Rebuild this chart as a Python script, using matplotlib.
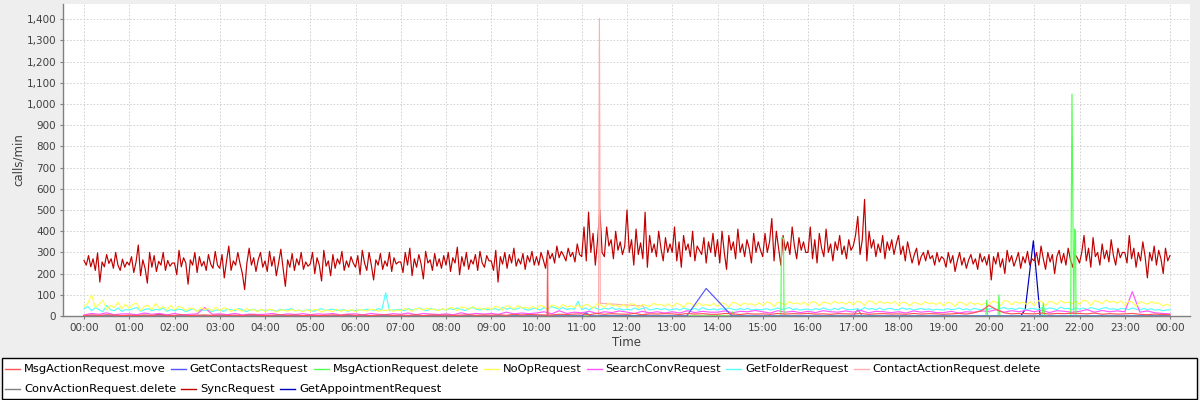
import numpy as np
import matplotlib
matplotlib.use("Agg")
import matplotlib.pyplot as plt
from matplotlib.lines import Line2D
from matplotlib.patches import Rectangle
from matplotlib.ticker import FuncFormatter, MultipleLocator

# ---------------- data (calls/min, time in hours of the day) ----------------
series_names = ["MsgActionRequest.move", "GetContactsRequest", "MsgActionRequest.delete",
                "NoOpRequest", "SearchConvRequest", "GetFolderRequest",
                "ContactActionRequest.delete", "ConvActionRequest.delete",
                "SyncRequest", "GetAppointmentRequest"]
series_colors = ["#FF5555", "#5555FF", "#55FF55", "#FFFF55", "#FF55FF", "#55FFFF",
                 "#FFAFAF", "#808080", "#C00000", "#0000C0"]

# SyncRequest, every 3 minutes 00:00 .. 24:00 (20 values per hour)
sync_vals = [
    262, 240, 285, 232, 270, 215, 298, 160, 255, 232, 290, 248, 270, 225, 300, 240, 215, 268, 230, 255,
    240, 280, 205, 255, 335, 190, 265, 225, 155, 300, 230, 285, 210, 258, 240, 300, 215, 262, 235, 250,
    250, 195, 310, 232, 275, 250, 150, 265, 240, 300, 205, 280, 235, 258, 215, 290, 245, 225, 305, 240,
    225, 290, 180, 260, 330, 215, 260, 240, 300, 245, 200, 125, 250, 320, 240, 275, 210, 265, 300, 230,
    260, 210, 305, 235, 280, 190, 250, 315, 225, 140, 265, 230, 295, 215, 270, 240, 300, 220, 255, 235,
    245, 300, 200, 275, 240, 165, 310, 235, 260, 190, 290, 225, 270, 245, 305, 215, 260, 230, 280, 250,
    230, 285, 195, 310, 250, 215, 300, 240, 170, 265, 240, 295, 220, 260, 235, 300, 210, 275, 245, 255,
    255, 205, 300, 240, 320, 190, 270, 230, 290, 245, 175, 305, 250, 265, 215, 295, 235, 270, 225, 285,
    240, 300, 210, 275, 250, 325, 195, 280, 235, 300, 220, 265, 245, 290, 215, 305, 250, 230, 285, 260,
    260, 215, 310, 160, 280, 245, 300, 225, 290, 250, 320, 235, 270, 245, 295, 220, 285, 255, 305, 240,
    280, 240, 300, 265, 225, 310, 270, 295, 250, 330, 275, 305, 285, 260, 320, 280, 300, 255, 340, 290,
    280, 420, 260, 490, 300, 390, 240, 360, 500, 300, 280, 420, 330, 360, 270, 400, 310, 350, 290, 330,
    500, 300, 360, 240, 410, 290, 345, 270, 490, 230, 380, 300, 340, 280, 400, 320, 260, 370, 300, 340,
    300, 420, 260, 350, 230, 380, 310, 340, 280, 400, 260, 330, 310, 290, 370, 250, 350, 300, 390, 280,
    360, 250, 400, 300, 220, 380, 310, 350, 270, 410, 300, 340, 280, 360, 320, 250, 390, 300, 350, 310,
    280, 390, 300, 350, 460, 260, 400, 320, 240, 380, 310, 350, 290, 420, 330, 270, 370, 310, 350, 300,
    300, 420, 270, 360, 250, 390, 320, 280, 410, 300, 340, 260, 350, 310, 380, 290, 330, 270, 360, 310,
    330, 380, 470, 290, 360, 550, 260, 400, 320, 360, 280, 340, 300, 380, 270, 350, 310, 360, 290, 340,
    380, 290, 330, 260, 350, 300, 250, 290, 320, 240, 280, 300, 260, 310, 270, 285, 240, 300, 255, 280,
    270, 230, 300, 250, 285, 210, 260, 300, 240, 275, 225, 265, 290, 245, 270, 220, 295, 255, 280, 240,
    290, 170, 280, 245, 300, 230, 270, 200, 310, 255, 285, 235, 265, 300, 225, 280, 250, 305, 240, 270,
    260, 300, 240, 330, 270, 220, 300, 255, 290, 200, 280, 310, 250, 295, 240, 320, 265, 230, 290, 275,
    250, 300, 380, 260, 320, 230, 370, 280, 300, 240, 340, 270, 310, 255, 360, 285, 240, 320, 275, 300,
    300, 250, 380, 270, 320, 230, 300, 260, 350, 280, 180, 300, 260, 330, 240, 310, 270, 200, 320, 260,
    285]

# NoOpRequest, every 5 minutes
noop_vals = [
    45, 60, 100, 40, 55, 75, 30, 50, 40, 65, 35, 55,
    35, 55, 60, 25, 45, 50, 30, 60, 35, 45, 28, 50,
    30, 45, 40, 25, 38, 35, 20, 40, 30, 35, 25, 42,
    25, 38, 35, 20, 32, 30, 22, 35, 28, 30, 20, 33,
    20, 32, 30, 18, 28, 28, 22, 30, 25, 28, 20, 30,
    22, 30, 30, 18, 28, 26, 20, 32, 22, 28, 25, 30,
    20, 30, 28, 24, 32, 30, 22, 28, 26, 30, 22, 28,
    25, 35, 32, 22, 35, 35, 28, 38, 30, 32, 26, 34,
    28, 40, 38, 25, 42, 40, 30, 45, 35, 38, 30, 40,
    30, 45, 42, 28, 48, 45, 32, 50, 38, 42, 35, 45,
    35, 50, 45, 30, 52, 48, 38, 55, 42, 48, 40, 52,
    38, 55, 50, 35, 58, 52, 40, 60, 48, 52, 42, 55,
    40, 58, 55, 38, 55, 50, 45, 60, 52, 55, 45, 58,
    42, 60, 55, 40, 62, 58, 45, 62, 50, 55, 48, 60,
    45, 62, 58, 42, 65, 60, 48, 62, 55, 58, 50, 62,
    50, 65, 62, 45, 65, 60, 52, 68, 58, 62, 55, 65,
    50, 68, 65, 48, 66, 62, 55, 70, 60, 65, 55, 68,
    52, 70, 65, 50, 72, 68, 55, 70, 60, 65, 58, 70,
    50, 65, 62, 48, 65, 60, 52, 68, 58, 62, 55, 64,
    48, 65, 60, 45, 66, 62, 50, 65, 55, 60, 52, 62,
    50, 70, 65, 48, 72, 70, 52, 68, 60, 65, 55, 68,
    50, 72, 68, 48, 70, 65, 55, 72, 62, 65, 58, 70,
    55, 75, 70, 50, 72, 68, 58, 75, 65, 70, 60, 72,
    50, 70, 65, 45, 68, 62, 55, 68, 60, 62, 48, 55,
    50]

# GetFolderRequest, every 5 minutes
folder_vals = [
    35, 45, 25, 40, 30, 20, 50, 30, 25, 38, 22, 30,
    28, 35, 40, 22, 30, 35, 25, 32, 28, 38, 22, 30,
    25, 32, 30, 20, 28, 35, 22, 30, 26, 30, 20, 28,
    28, 22, 32, 30, 25, 35, 30, 20, 28, 32, 22, 30,
    25, 30, 28, 22, 32, 28, 30, 35, 24, 28, 22, 30,
    28, 22, 30, 35, 25, 30, 32, 26, 28, 30, 22, 28,
    25, 30, 28, 32, 30, 26, 35, 30, 110, 25, 28, 30,
    30, 25, 35, 28, 32, 38, 30, 25, 35, 30, 28, 32,
    28, 35, 30, 38, 32, 25, 35, 40, 32, 28, 35, 30,
    30, 35, 28, 40, 32, 38, 30, 35, 42, 30, 28, 35,
    35, 28, 40, 30, 45, 38, 32, 40, 30, 35, 32, 70,
    30, 38, 28, 42, 35, 30, 38, 32, 40, 30, 35, 28,
    32, 28, 38, 30, 35, 40, 28, 32, 36, 30, 35, 28,
    30, 35, 28, 38, 32, 30, 36, 28, 40, 32, 30, 34,
    28, 35, 30, 38, 32, 28, 35, 30, 36, 28, 32, 30,
    30, 35, 28, 32, 38, 30, 35, 40, 30, 34, 28, 32,
    32, 28, 35, 30, 38, 32, 28, 36, 30, 40, 32, 30,
    30, 35, 28, 40, 32, 35, 30, 38, 28, 34, 36, 30,
    30, 38, 32, 35, 28, 32, 36, 30, 34, 28, 32, 30,
    28, 35, 30, 32, 38, 30, 34, 28, 36, 32, 30, 34,
    32, 38, 30, 35, 40, 32, 36, 30, 38, 34, 30, 35,
    35, 30, 40, 32, 38, 35, 30, 42, 34, 36, 30, 38,
    32, 38, 30, 40, 35, 30, 36, 40, 32, 34, 30, 35,
    35, 30, 38, 32, 28, 36, 30, 34, 28, 30, 25, 28,
    30]

# SearchConvRequest, every 10 minutes
search_vals = [
    5, 12, 8, 15, 6, 10,    10, 6, 14, 8, 12, 5,    12, 5, 8, 10, 40, 8,
    10, 6, 12, 5, 9, 7,     8, 12, 5, 10, 7, 11,    6, 10, 8, 12, 5, 9,
    10, 5, 12, 8, 6, 11,    8, 14, 6, 12, 9, 7,     10, 6, 15, 8, 12, 9,
    12, 8, 18, 10, 14, 11,  14, 20, 10, 25, 12, 18, 15, 22, 12, 20, 16, 24,
    18, 12, 22, 15, 20, 14, 20, 14, 25, 16, 22, 18, 18, 24, 15, 22, 20, 26,
    20, 14, 25, 18, 22, 16, 22, 16, 25, 20, 18, 24, 18, 26, 15, 22, 20, 16,
    20, 14, 24, 18, 22, 16, 16, 22, 14, 20, 18, 24, 22, 30, 18, 25, 20, 28,
    20, 28, 16, 25, 22, 18, 22, 30, 18, 26, 20, 24, 20, 115, 18, 24, 15, 12,
    10]

# MsgActionRequest.move, every 10 minutes plus a narrow spike
move_vals = [
    2, 5, 3, 6, 4, 2,     4, 2, 5, 3, 6, 3,     3, 6, 2, 4, 5, 3,
    5, 3, 4, 2, 6, 4,     2, 4, 6, 3, 5, 2,     4, 2, 3, 5, 3, 6,
    3, 5, 2, 4, 6, 3,     4, 3, 6, 2, 5, 4,     5, 3, 4, 6, 3, 5,
    4, 6, 3, 8, 5, 7,     6, 5, 5, 8, 7, 9,     10, 6, 12, 8, 11, 9,
    8, 12, 6, 10, 9, 11,  10, 7, 12, 9, 11, 8,  8, 12, 10, 7, 11, 9,
    10, 8, 12, 9, 11, 10, 12, 9, 10, 8, 11, 10, 9, 12, 8, 10, 11, 9,
    10, 8, 12, 9, 11, 10, 8, 10, 12, 9, 15, 25, 50, 30, 15, 10, 12, 11,
    10, 14, 9, 12, 11, 13, 12, 10, 14, 8, 11, 9, 10, 12, 8, 6, 9, 7,
    6]
move_spike_t = [10.235, 10.245, 10.255]
move_spike_v = [4, 280, 4]

# sparse series (time in hours, value)
contacts_t = [0.0, 11.0, 11.1, 11.2, 13.32, 13.75, 14.32, 24.0]
contacts_v = [0, 0, 15, 0, 0, 130, 0, 0]

delete_t = [0.0, 14.30, 14.33, 14.37, 15.400, 15.414, 15.459, 15.470,
            19.93, 19.95, 19.97, 20.20, 20.22, 20.24, 21.17, 21.20, 21.23,
            21.805, 21.834, 21.872, 21.894, 21.912, 21.923, 24.0]
delete_v = [0, 0, 20, 0, 0, 368, 368, 0,
            0, 75, 0, 0, 100, 0, 0, 60, 0,
            0, 1047, 0, 410, 396, 0, 0]

contact_del_t = [0.0, 11.37, 11.39, 11.41, 12.36, 12.45, 24.0]
contact_del_v = [0, 0, 1404, 60, 47, 0, 0]

conv_del_t = [0.0, 17.0, 17.1, 17.2, 24.0]
conv_del_v = [0, 0, 30, 0, 0]

appt_t = [0.0, 1.5, 1.6, 1.8, 1.9, 20.70, 20.80, 20.98, 21.13, 24.0]
appt_v = [0, 0, 5, 5, 0, 0, 30, 355, 0, 0]

hour_ticks = list(range(0, 25))
hour_labels = ["%02d:00" % (h % 24) for h in hour_ticks]


def merged(base_t, base_v, spike_t, spike_v):
    t = np.concatenate([np.asarray(base_t, float), np.asarray(spike_t, float)])
    v = np.concatenate([np.asarray(base_v, float), np.asarray(spike_v, float)])
    order = np.argsort(t, kind="stable")
    return t[order], v[order]


def day_grid(vals):
    n = len(vals) - 1
    return np.arange(len(vals)) * 24.0 / n


sync_t = day_grid(sync_vals)
noop_t = day_grid(noop_vals)
folder_t = day_grid(folder_vals)
search_t = day_grid(search_vals)
move_t = day_grid(move_vals)
move_tt, move_vv = merged(move_t, move_vals, move_spike_t, move_spike_v)

data = [
    (move_tt, move_vv),
    (contacts_t, contacts_v),
    (delete_t, delete_v),
    (noop_t, noop_vals),
    (search_t, search_vals),
    (folder_t, folder_vals),
    (contact_del_t, contact_del_v),
    (conv_del_t, conv_del_v),
    (sync_t, sync_vals),
    (appt_t, appt_v),
]

# ---------------- figure ----------------
W, H = 1200, 400
fig = plt.figure(figsize=(12, 4), dpi=100, facecolor="#EEEEEE")
px_left, px_right, px_top, px_bottom = 63, 1190, 4, 316
ax = fig.add_axes([px_left / W, (H - px_bottom) / H,
                   (px_right - px_left) / W, (px_bottom - px_top) / H])
ax.set_facecolor("white")

for i, ((t, v), col) in enumerate(zip(data, series_colors)):
    ax.plot(t, v, color=col, lw=0.85, zorder=20 - i)

px_per_h = 45.25
ax.set_xlim((px_left - 84) / px_per_h, (px_right - 84) / px_per_h)
ax.set_ylim(0, 1472)

ax.set_xticks(hour_ticks)
ax.set_xticklabels(hour_labels)
ax.yaxis.set_major_locator(MultipleLocator(100))
ax.yaxis.set_major_formatter(FuncFormatter(lambda v, p: f"{v:,.0f}"))

ax.grid(True, color="#CCCCCC", linestyle=(0, (2, 2)), linewidth=0.6, zorder=0)
ax.set_axisbelow(True)

for s in ["top", "right"]:
    ax.spines[s].set_visible(False)
for s in ["left", "bottom"]:
    ax.spines[s].set_color("#808080")
    ax.spines[s].set_linewidth(1.0)

ax.tick_params(axis="both", direction="out", length=2, width=0.8, color="#808080",
               labelsize=7.5, labelcolor="#404040")
ax.tick_params(axis="x", pad=3)
ax.tick_params(axis="y", pad=3)

ax.set_xlabel("Time", fontsize=8.5, color="#404040")
ax.xaxis.set_label_coords(0.5, (px_bottom - 342) / (px_bottom - px_top))
ax.xaxis.label.set_va("center")
ax.set_ylabel("calls/min", fontsize=8.5, color="#404040")
ax.yaxis.set_label_coords((18 - px_left) / (px_right - px_left), 0.5)
ax.yaxis.label.set_va("center")

# ---------------- legend (flow layout like the original) ----------------
box = Rectangle((2 / W, (H - 398.5) / H), 1195 / W, 41 / H, transform=fig.transFigure,
                facecolor="white", edgecolor="black", linewidth=1.0, zorder=1)
fig.patches.append(box)

fig.canvas.draw()
renderer = fig.canvas.get_renderer()
x = 5.0
rows_y = [368.5, 388.5]
row = 0
for i, (name, col) in enumerate(zip(series_names, series_colors)):
    if i == 7:
        row = 1
        x = 5.0
    yc = rows_y[row]
    fig.add_artist(Line2D([x / W, (x + 15) / W], [(H - yc) / H, (H - yc) / H],
                          transform=fig.transFigure, color=col, lw=1.0, zorder=3))
    txt = fig.text((x + 19) / W, (H - yc) / H, name, fontsize=8.25, color="black",
                   ha="left", va="center", zorder=3)
    w = txt.get_window_extent(renderer).width
    x = x + 19 + w + 5

fig.savefig("out.png", dpi=100, facecolor=fig.get_facecolor())
